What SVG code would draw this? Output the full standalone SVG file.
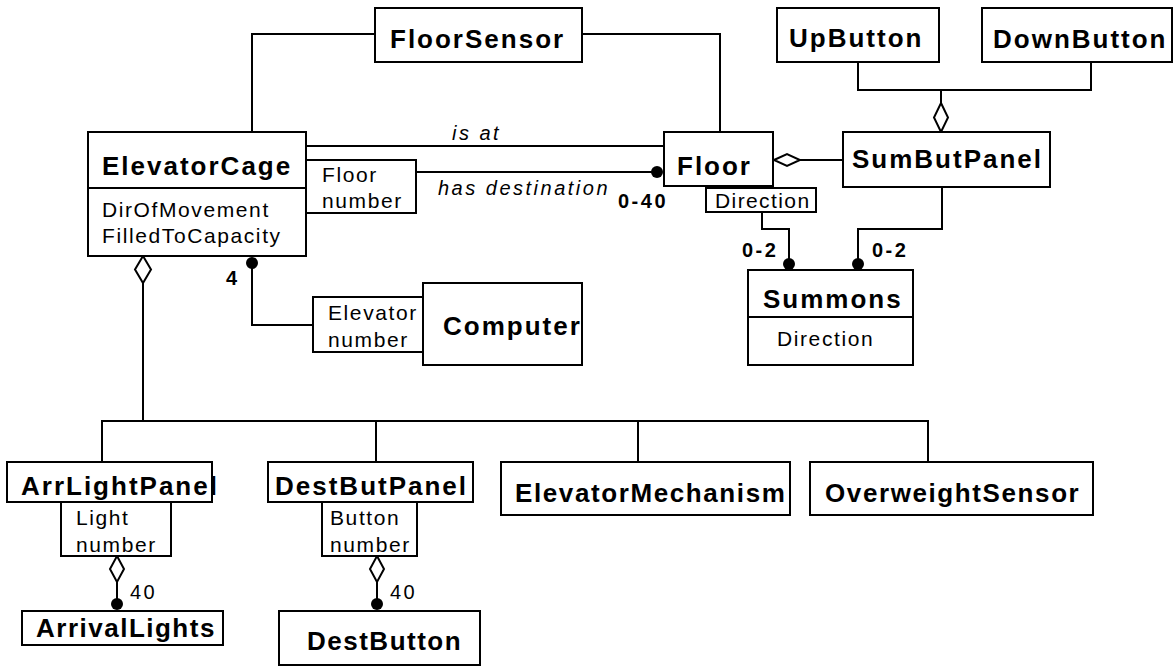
<svg xmlns="http://www.w3.org/2000/svg" width="1175" height="666" viewBox="0 0 1175 666">
<style>
rect.box{fill:#fff;stroke:#000;stroke-width:2}
.ln{fill:none;stroke:#000;stroke-width:2}
.dia{fill:#fff;stroke:#000;stroke-width:2}
.dot{fill:#000}
text{font-family:"Liberation Sans",Arial,sans-serif;fill:#000}
.cls{font-size:26px;font-weight:bold;letter-spacing:2px}
.q{font-size:21px;letter-spacing:1.6px}
.it{font-size:20px;font-style:italic;letter-spacing:2.5px}
.m{font-size:20px;font-weight:bold;letter-spacing:2.5px}
.mr{font-size:20px;letter-spacing:2.5px}
</style>
<rect width="1175" height="666" fill="#fff"/>
<g id="connectors">
<path class="ln" d="M252 132 V34 H375"/>
<path class="ln" d="M582 34 H720 V132"/>
<path class="ln" d="M306 146 H664"/>
<path class="ln" d="M416 172 H652"/>
<circle class="dot" cx="657" cy="172" r="6"/>
<path class="ln" d="M800 160 H843"/>
<polygon class="dia" points="774,160 787,154 800,160 787,166"/>
<path class="ln" d="M858 62 V90 H1091 V62 M941 90 V103"/>
<polygon class="dia" points="941,103 948,117.5 941,132 934,117.5"/>
<path class="ln" d="M762 212 V229 H789 V264"/>
<circle class="dot" cx="789" cy="264" r="6"/>
<path class="ln" d="M942 187 V229 H858 V264"/>
<circle class="dot" cx="858" cy="264" r="6"/>
<path class="ln" d="M252 263 V325 H313"/>
<circle class="dot" cx="252" cy="263" r="6"/>
<path class="ln" d="M143 283 V421 M102 462 V421 H928 V462 M376 421 V462 M638 421 V462"/>
<polygon class="dia" points="143,256 151,269.5 143,283 135,269.5"/>
<path class="ln" d="M117 582 V604"/>
<polygon class="dia" points="117,556 124,569 117,582 110,569"/>
<circle class="dot" cx="117" cy="604" r="6"/>
<path class="ln" d="M377 582 V604"/>
<polygon class="dia" points="377,556 384,569 377,582 370,569"/>
<circle class="dot" cx="377" cy="604" r="6"/>
<text class="it" x="452" y="140">is at</text>
<text class="it" x="438" y="195">has destination</text>
<text class="m" x="618" y="208">0-40</text>
<text class="m" x="742" y="257">0-2</text>
<text class="m" x="872" y="257">0-2</text>
<text class="m" x="226" y="285">4</text>
<text class="mr" x="130" y="599">40</text>
<text class="mr" x="390" y="599">40</text>
</g>
<g id="FloorSensor">
<rect class="box" x="375" y="8" width="207" height="54"/>
<text class="cls" x="390" y="48">FloorSensor</text>
</g>
<g id="UpButton">
<rect class="box" x="777" y="8" width="162" height="54"/>
<text class="cls" x="789" y="47">UpButton</text>
</g>
<g id="DownButton">
<rect class="box" x="982" y="8" width="190" height="54"/>
<text class="cls" x="993" y="48">DownButton</text>
</g>
<g id="ElevatorCage">
<rect class="box" x="88" y="132" width="218" height="124"/>
<path class="ln" d="M88 188 H306"/>
<text class="cls" x="102" y="175">ElevatorCage</text>
<text class="q" x="102" y="217">DirOfMovement</text>
<text class="q" x="102" y="243">FilledToCapacity</text>
<rect class="box" x="306" y="160" width="110" height="53"/>
<text class="q" x="322" y="182">Floor</text>
<text class="q" x="322" y="208">number</text>
</g>
<g id="Floor">
<rect class="box" x="664" y="132" width="109" height="54"/>
<text class="cls" x="677" y="175">Floor</text>
<rect class="box" x="706" y="188" width="110" height="24"/>
<text class="q" x="715" y="208" style="letter-spacing:1.4px">Direction</text>
</g>
<g id="SumButPanel">
<rect class="box" x="843" y="132" width="207" height="55"/>
<text class="cls" x="852" y="168">SumButPanel</text>
</g>
<g id="Summons">
<rect class="box" x="748" y="270" width="165" height="95"/>
<path class="ln" d="M748 317 H913"/>
<text class="cls" x="763" y="308">Summons</text>
<text class="q" x="777" y="346">Direction</text>
</g>
<g id="Computer">
<rect class="box" x="313" y="297" width="110" height="55"/>
<text class="q" x="328" y="320">Elevator</text>
<text class="q" x="328" y="347">number</text>
<rect class="box" x="423" y="283" width="159" height="82"/>
<text class="cls" x="443" y="335">Computer</text>
</g>
<g id="ArrLightPanel">
<rect class="box" x="7" y="462" width="205" height="40"/>
<text class="cls" x="21" y="495">ArrLightPanel</text>
<rect class="box" x="61" y="502" width="110" height="54"/>
<text class="q" x="76" y="525">Light</text>
<text class="q" x="76" y="552">number</text>
</g>
<g id="ArrivalLights">
<rect class="box" x="22" y="611" width="201" height="34"/>
<text class="cls" x="36" y="637" style="letter-spacing:1.5px">ArrivalLights</text>
</g>
<g id="DestButPanel">
<rect class="box" x="268" y="462" width="205" height="40"/>
<text class="cls" x="275" y="495">DestButPanel</text>
<rect class="box" x="322" y="502" width="95" height="54"/>
<text class="q" x="330" y="525">Button</text>
<text class="q" x="330" y="552">number</text>
</g>
<g id="DestButton">
<rect class="box" x="279" y="611" width="201" height="54"/>
<text class="cls" x="307" y="650" style="letter-spacing:1.5px">DestButton</text>
</g>
<g id="ElevatorMechanism">
<rect class="box" x="501" y="462" width="289" height="53"/>
<text class="cls" x="515" y="502" style="letter-spacing:1.6px">ElevatorMechanism</text>
</g>
<g id="OverweightSensor">
<rect class="box" x="810" y="462" width="283" height="53"/>
<text class="cls" x="825" y="502" style="letter-spacing:1.6px">OverweightSensor</text>
</g>
</svg>
